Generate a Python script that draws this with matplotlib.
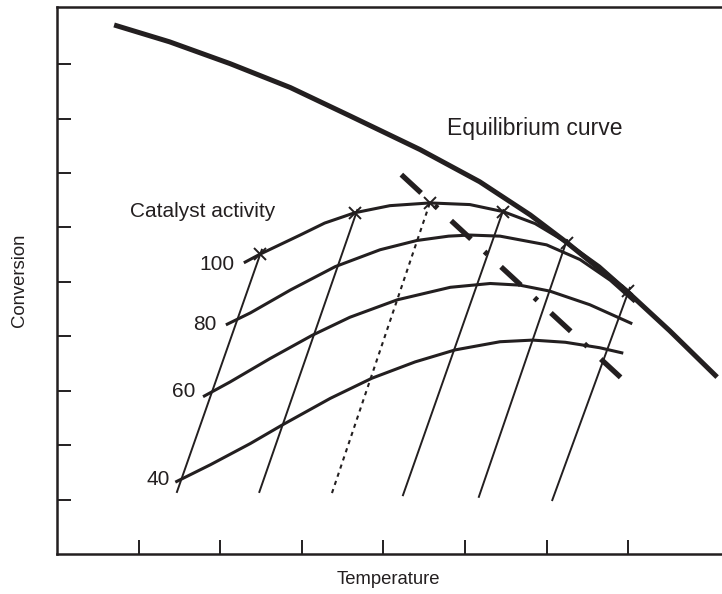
import numpy as np
import matplotlib
matplotlib.use("Agg")
import matplotlib.pyplot as plt

plt.rcParams['font.family'] = ['Liberation Sans', 'DejaVu Sans']
plt.rcParams['lines.scale_dashes'] = False

INK = "#231f20"

# equilibrium curve
eq_T = [0.70, 1.38, 2.12, 2.86, 3.59, 4.45, 5.18, 5.80, 6.25, 6.99, 7.51, 8.09]
eq_X = [9.72, 9.41, 9.01, 8.57, 8.05, 7.43, 6.84, 6.23, 5.72, 4.82, 4.10, 3.25]

# catalyst activity curves
act100_T = [2.29, 2.49, 2.98, 3.28, 3.65, 4.08, 4.57, 5.06, 5.47, 5.86, 6.25, 6.65, 7.05]
act100_X = [5.35, 5.51, 5.86, 6.08, 6.27, 6.40, 6.45, 6.42, 6.29, 6.07, 5.72, 5.29, 4.76]
act80_T = [2.07, 2.37, 2.86, 3.41, 3.96, 4.41, 4.80, 5.06, 5.43, 6.00, 6.41, 6.78, 7.08]
act80_X = [4.21, 4.43, 4.85, 5.28, 5.59, 5.76, 5.84, 5.86, 5.84, 5.68, 5.41, 5.03, 4.63]
act60_T = [1.79, 2.12, 2.61, 3.13, 3.59, 4.17, 4.82, 5.31, 5.67, 6.04, 6.53, 7.05]
act60_X = [2.89, 3.16, 3.59, 4.02, 4.35, 4.67, 4.90, 4.97, 4.94, 4.83, 4.58, 4.23]
act40_T = [1.45, 1.88, 2.37, 2.76, 3.35, 3.86, 4.39, 4.88, 5.43, 5.83, 6.23, 6.65, 6.94]
act40_X = [1.32, 1.64, 2.03, 2.37, 2.86, 3.23, 3.53, 3.75, 3.90, 3.93, 3.89, 3.79, 3.69]

curve_labels = ["100", "80", "60", "40"]
label_T = [2.18, 1.96, 1.69, 1.38]
label_X = [5.31, 4.21, 2.98, 1.36]

# straight lines (bottom T, top T, bottom X, top X)
lines_T0 = [1.47, 2.48, 3.37, 4.24, 5.17, 6.07]
lines_T1 = [2.51, 3.68, 4.57, 5.47, 6.25, 7.02]
lines_X0 = [1.14, 1.14, 1.12, 1.08, 1.05, 0.99]
lines_X1 = [5.59, 6.32, 6.45, 6.32, 5.77, 4.89]
dotted_line = 2

# crosses on the 100 curve
mark_T = [2.49, 3.65, 4.57, 5.47, 6.25, 7.00]
mark_X = [5.51, 6.27, 6.45, 6.29, 5.72, 4.83]

# optimum line
opt_T = [4.22, 6.94]
opt_X = [6.97, 3.20]

fig = plt.figure(figsize=(7.22, 5.94), dpi=100)
ax = fig.add_axes([57/722, 40/594, 665/722, 547/594])

ax.plot(eq_T, eq_X, color=INK, lw=3.6, solid_capstyle='butt',
        solid_joinstyle='round', zorder=4)

for T, X in [(act100_T, act100_X), (act80_T, act80_X),
             (act60_T, act60_X), (act40_T, act40_X)]:
    ax.plot(T, X, color=INK, lw=2.2, solid_capstyle='butt',
            solid_joinstyle='round', zorder=3)

for i in range(len(lines_T0)):
    ls = (0, (3.0, 3.2)) if i == dotted_line else '-'
    ax.plot([lines_T0[i], lines_T1[i]], [lines_X0[i], lines_X1[i]],
            color=INK, lw=1.5 if i == dotted_line else 1.4, ls=ls, zorder=2)

ax.plot(mark_T, mark_X, ls='none', marker='x', ms=8, mew=1.4, color=INK, zorder=5)

ax.plot(opt_T, opt_X, color=INK, lw=3.8,
        ls=(0, (19.4, 13.3, 2.9, 13.3)), zorder=5)

for lab, t, x in zip(curve_labels, label_T, label_X):
    ax.text(t, x, lab, ha='right', va='center', fontsize=15, color=INK)

ax.text(0.89, 6.29, "Catalyst activity", ha='left', va='center', fontsize=15, color=INK)
ax.text(4.78, 7.81, "Equilibrium curve", ha='left', va='center', fontsize=16.5, color=INK)

ax.set_xlim(0, 8.15)
ax.set_ylim(0, 10.05)
ax.set_xticks(range(1, 8))
ax.set_yticks(range(1, 10))
ax.tick_params(direction='in', length=10, width=1.4, color=INK,
               labelbottom=False, labelleft=False)
ax.spines['right'].set_visible(False)
for s in ['left', 'top', 'bottom']:
    ax.spines[s].set_linewidth(1.8)
    ax.spines[s].set_color(INK)

fig.text(388/722, 1 - 580/594, "Temperature", ha='center', va='center', fontsize=13.3, color=INK)
fig.text(20/722, 1 - 280/594, "Conversion", ha='center', va='center',
         rotation=90, fontsize=13.3, color=INK)

fig.savefig("out.png", dpi=100)
